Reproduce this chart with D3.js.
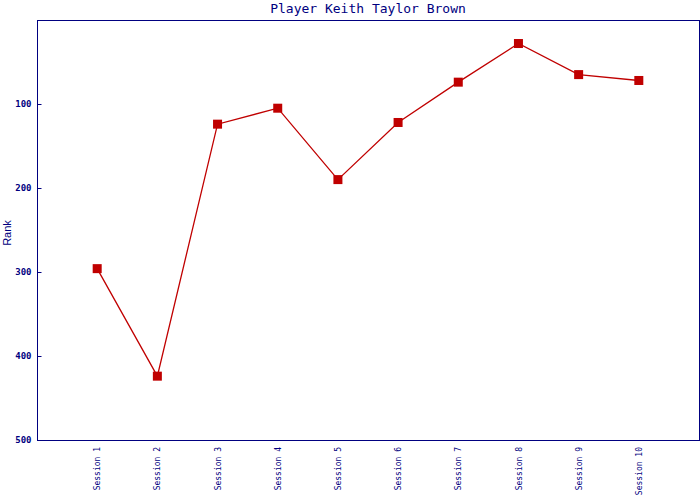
<!DOCTYPE html>
<html><head><meta charset="utf-8">
<script src="https://cdn.jsdelivr.net/npm/d3@7"></script>
<style>body{margin:0;background:#fff}</style>
</head><body>
<svg id="chart" width="700" height="500"></svg>
<script>
const title = "Player Keith Taylor Brown";
const yLabel = "Rank";
const sessions = ["Session 1","Session 2","Session 3","Session 4","Session 5","Session 6","Session 7","Session 8","Session 9","Session 10"];
const ranks = [296, 424, 124, 105, 190, 122, 74, 28, 65, 72];
const yTicks = [100, 200, 300, 400, 500];

const svg = d3.select("#chart");
const m = {l: 37, r: 699, t: 20, b: 440};
const navy = "#000080", red = "#c00000";

const x = d3.scalePoint().domain(sessions).range([m.l, m.r]).padding(1);
const y = d3.scaleLinear().domain([0, 500]).range([m.t, m.b]);

svg.append("rect").attr("x", m.l + 0.5).attr("y", m.t + 0.5)
  .attr("width", m.r - m.l).attr("height", m.b - m.t)
  .attr("fill", "none").attr("stroke", navy).attr("stroke-width", 1);

const ya = svg.append("g").attr("transform", `translate(${m.l + 0.5},0)`)
  .call(d3.axisLeft(y).tickValues(yTicks).tickSizeInner(-4).tickSizeOuter(0).tickPadding(6));
ya.select(".domain").remove();
ya.selectAll("line").attr("stroke", navy);
ya.selectAll("text").attr("fill", navy).style("font-family", "DejaVu Sans Mono, monospace")
  .style("font-size", "9px").style("font-weight", "bold");

const xa = svg.append("g").attr("transform", `translate(0,${m.b})`)
  .call(d3.axisBottom(x).tickSize(0).tickPadding(0));
xa.select(".domain").remove();
xa.selectAll("text").attr("fill", navy).style("font-family", "DejaVu Sans Mono, monospace")
  .style("font-size", "8px")
  .attr("transform", "rotate(-90)").attr("text-anchor", "end")
  .attr("x", -7).attr("y", 0).attr("dy", "0.32em");

svg.append("text").attr("x", 368).attr("y", 13).attr("text-anchor", "middle")
  .attr("fill", navy).style("font-family", "DejaVu Sans Mono, monospace").style("font-size", "13px")
  .text(title);

svg.append("text").attr("transform", "translate(11,233) rotate(-90)").attr("text-anchor", "middle")
  .attr("fill", navy).style("font-family", "Liberation Sans, Arial, sans-serif").style("font-size", "11px")
  .text(yLabel);

const line = d3.line().x((d, i) => x(sessions[i])).y(d => y(d));
svg.append("path").datum(ranks).attr("d", line).attr("fill", "none")
  .attr("stroke", red).attr("stroke-width", 1.3);

svg.selectAll("rect.pt").data(ranks).join("rect").attr("class", "pt")
  .attr("x", (d, i) => x(sessions[i]) - 4.5).attr("y", d => y(d) - 4.5)
  .attr("width", 9).attr("height", 9).attr("fill", red);
</script>
</body></html>
